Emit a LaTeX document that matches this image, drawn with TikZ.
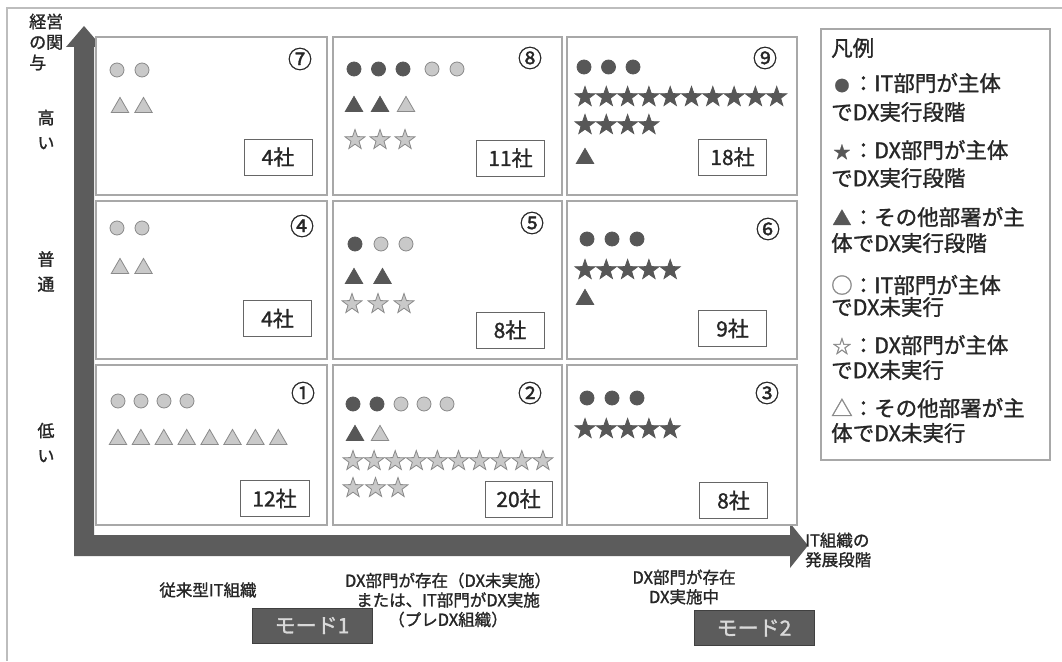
\documentclass[tikz,border=0pt]{standalone}
\usepackage{fontspec}
\setmainfont{Noto Sans CJK JP}[FakeBold=1.3]
\usetikzlibrary{shapes.geometric}
\definecolor{dkc}{HTML}{575757}
\definecolor{lgc}{HTML}{C9C9C9}
\definecolor{lgd}{HTML}{8A8A8A}
\definecolor{axc}{HTML}{5C5C5C}
\definecolor{cellc}{HTML}{A8A8A8}
\definecolor{framec}{HTML}{BDBDBD}
\definecolor{txtc}{HTML}{262626}
\newcommand\symrow[6]{\foreach \k in {1,...,#4}{\node[#1] (#6\k) at ({#2+(\k-1)*#5},#3) {};}}
\newcommand\lgsym[3]{\makebox[21.5pt][c]{\fontsize{#2}{#2}\selectfont\color{#1}#3}}
\tikzset{
  cellbox/.style={draw=cellc, line width=1.8pt, fill=white, inner sep=0},
  cntbox/.style={draw=gray!80!black, line width=0.9pt, fill=white, minimum width=68pt, minimum height=36pt, inner sep=0, font=\fontsize{21}{21}\selectfont, text=txtc},
  cnum/.style={inner sep=0, font=\fontsize{24}{24}\selectfont, text=txtc},
  lc/.style={circle, fill=lgc, draw=lgd, line width=0.8pt, minimum size=14pt, inner sep=0},
  dc/.style={circle, fill=dkc, draw=dkc, line width=0.8pt, minimum size=14pt, inner sep=0},
  lt/.style={regular polygon, regular polygon sides=3, fill=lgc, draw=lgd, line width=0.8pt, minimum size=20pt, inner sep=0, yshift=-2.4pt},
  dt/.style={regular polygon, regular polygon sides=3, fill=dkc, draw=dkc, line width=0.8pt, minimum size=20pt, inner sep=0, yshift=-2.4pt},
  ls/.style={star, star points=5, star point ratio=2.5, fill=lgc, draw=lgd, line width=0.8pt, minimum size=21pt, inner sep=0},
  ds/.style={star, star points=5, star point ratio=2.5, fill=dkc, draw=dkc, line width=0.8pt, minimum size=21pt, inner sep=0},
  lgtext/.style={anchor=west, inner sep=0, font=\fontsize{21.5}{26}\selectfont, text=txtc},
  axlab/.style={inner sep=0, align=left, font=\fontsize{17}{25}\selectfont, text=txtc},
  botlab/.style={inner sep=0, align=center, font=\fontsize{16.5}{19.5}\selectfont, text=txtc},
  modebox/.style={fill=axc, draw=black!75, line width=0.6pt, minimum width=120pt, minimum height=35pt, inner sep=0, text=white!85!black, font=\fontsize{21}{21}\selectfont},
}
\begin{document}
\begin{tikzpicture}[x=1pt,y=-1pt]
\useasboundingbox (0,0) rectangle (1062,661);
\fill[white] (0,0) rectangle (1062,661);
% outer frame
\draw[framec, line width=1.6pt] (7,661) -- (7,8) -- (1062,8);
% axes (L-shaped arrow)
\fill[axc] (74,47) -- (66,47) -- (84,26) -- (102,47) -- (94,47) -- (94,535)
  -- (790,535) -- (790,523) -- (808,545.5) -- (790,568) -- (790,556) -- (74,556) -- cycle;
% cells
\node[cellbox, minimum width=231pt, minimum height=158pt] (cell7) at (211.5,116) {};
\node[cellbox, minimum width=229pt, minimum height=158pt] (cell8) at (447.5,116) {};
\node[cellbox, minimum width=230pt, minimum height=158pt] (cell9) at (682,116) {};
\node[cellbox, minimum width=231pt, minimum height=158pt] (cell4) at (211.5,280) {};
\node[cellbox, minimum width=229pt, minimum height=158pt] (cell5) at (447.5,280) {};
\node[cellbox, minimum width=230pt, minimum height=158pt] (cell6) at (682,280) {};
\node[cellbox, minimum width=231pt, minimum height=160pt] (cell1) at (211.5,445) {};
\node[cellbox, minimum width=229pt, minimum height=160pt] (cell2) at (447.5,445) {};
\node[cellbox, minimum width=230pt, minimum height=160pt] (cell3) at (682,445) {};
% circled numbers
\node[cnum] (n7) at (300,59) {⑦};
\node[cnum] (n8) at (530,58) {⑧};
\node[cnum] (n9) at (765,58) {⑨};
\node[cnum] (n4) at (302,226) {④};
\node[cnum] (n5) at (532,223) {⑤};
\node[cnum] (n6) at (768,229) {⑥};
\node[cnum] (n1) at (303,393) {①};
\node[cnum] (n2) at (530,393) {②};
\node[cnum] (n3) at (767,393) {③};
% count boxes
\node[cntbox] (k7) at (278,157) {4社};
\node[cntbox] (k8) at (510.5,158) {11社};
\node[cntbox] (k9) at (732.5,157) {18社};
\node[cntbox] (k4) at (277.5,318.5) {4社};
\node[cntbox] (k5) at (510,330) {8社};
\node[cntbox] (k6) at (732.5,328.5) {9社};
\node[cntbox, minimum width=69pt] (k1) at (274.5,498.5) {12社};
\node[cntbox, minimum width=67pt] (k2) at (518.5,499) {20社};
\node[cntbox] (k3) at (733.5,500.5) {8社};
% cell 7
\symrow{lc}{117}{70}{2}{25}{s7a}
\symrow{lt}{120}{105}{2}{23.5}{s7b}
% cell 8
\symrow{dc}{354}{69}{3}{24.5}{s8a}
\symrow{lc}{432}{69}{2}{25}{s8b}
\symrow{dt}{354}{104}{2}{26}{s8c}
\symrow{lt}{406}{104}{1}{0}{s8d}
\symrow{ls}{355}{140}{3}{25}{s8e}
% cell 9
\symrow{dc}{584}{67}{3}{24.5}{s9a}
\symrow{ds}{585}{97}{10}{21.3}{s9b}
\symrow{ds}{585}{125}{4}{21.3}{s9c}
\symrow{dt}{585}{156}{1}{0}{s9d}
% cell 4
\symrow{lc}{117}{228}{2}{25}{s4a}
\symrow{lt}{120}{266}{2}{23.5}{s4b}
% cell 5
\symrow{dc}{355}{244}{1}{0}{s5a}
\symrow{lc}{381}{244}{2}{25}{s5b}
\symrow{dt}{354}{276}{2}{28.5}{s5c}
\symrow{ls}{352}{304}{3}{26}{s5d}
% cell 6
\symrow{dc}{587}{239}{3}{25}{s6a}
\symrow{ds}{585}{270}{5}{21.3}{s6b}
\symrow{dt}{585}{297}{1}{0}{s6c}
% cell 1
\symrow{lc}{118}{401}{4}{23}{s1a}
\symrow{lt}{118}{437}{8}{22.9}{s1b}
% cell 2
\symrow{dc}{353}{404}{2}{24}{s2a}
\symrow{lc}{401}{404}{3}{23}{s2b}
\symrow{dt}{355}{433}{1}{0}{s2c}
\symrow{lt}{380}{433}{1}{0}{s2d}
\symrow{ls}{353}{461}{10}{21.1}{s2e}
\symrow{ls}{353}{488}{3}{22.5}{s2f}
% cell 3
\symrow{dc}{587}{398}{3}{25}{s3a}
\symrow{ds}{585}{429}{5}{21.3}{s3b}
% axis labels
\node[axlab, anchor=west, font=\fontsize{17}{20.5}\selectfont] (ylab) at (29,42) {経営\\の関\\与};
\node[axlab, align=center] (yhi) at (46,129.5) {高\\い};
\node[axlab, align=center] (ymid) at (46,271.5) {普\\通};
\node[axlab, align=center] (ylo) at (46,442.5) {低\\い};
\node[botlab, anchor=west, align=left] (xlab) at (805,550) {IT組織の\\発展段階};
\node[botlab] (b1) at (208,590) {従来型IT組織};
\node[botlab] (b2) at (448,600) {DX部門が存在（DX未実施）\\または、IT部門がDX実施\\（プレDX組織）};
\node[botlab] (b3) at (684,587) {DX部門が存在\\DX実施中};
% mode buttons
\node[modebox] (m1) at (312,625.5) {モード1};
\node[modebox] (m2) at (754,628) {モード2};
% legend
\node[draw=cellc, line width=1.5pt, minimum width=229pt, minimum height=431pt, inner sep=0] (legend) at (935.5,244.5) {};
\node[lgtext] (l0) at (831,48) {凡例};
\node[lgtext] (l1) at (831,83) {\lgsym{dkc}{15}{●}：IT部門が主体};
\node[lgtext] (l2) at (831,112) {でDX実行段階};
\node[lgtext] (l3) at (831,150) {\lgsym{dkc}{17}{★}：DX部門が主体};
\node[lgtext] (l4) at (831,178) {でDX実行段階};
\node[lgtext] (l5) at (831,217) {\lgsym{dkc}{19}{▲}：その他部署が主};
\node[lgtext] (l6) at (831,243) {体でDX実行段階};
\node[lgtext] (l7) at (831,285) {\lgsym{lgd}{21.5}{○}：IT部門が主体};
\node[lgtext] (l8) at (831,307) {でDX未実行};
\node[lgtext] (l9) at (831,345) {\lgsym{lgd}{19}{☆}：DX部門が主体};
\node[lgtext] (l10) at (831,370) {でDX未実行};
\node[lgtext] (l11) at (831,408) {\lgsym{lgd}{21.5}{△}：その他部署が主};
\node[lgtext] (l12) at (831,433) {体でDX未実行};
\end{tikzpicture}
\end{document}
